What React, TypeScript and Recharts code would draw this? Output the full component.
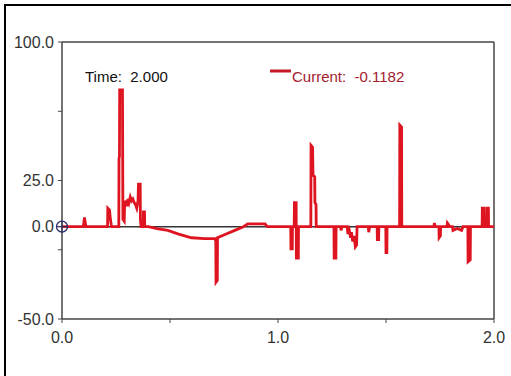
import React from 'react';
import { LineChart, Line, XAxis, YAxis, ReferenceLine, ReferenceDot } from 'recharts';

// Time (s) samples and measured current values
const times: number[] = [
  0.000, 0.097, 0.100, 0.104, 0.108, 0.111,
  0.211, 0.212, 0.220, 0.224, 0.228, 0.230,
  0.263, 0.264, 0.266, 0.267, 0.280, 0.282, 0.288, 0.290, 0.296, 0.300, 0.305, 0.310,
  0.316, 0.322, 0.328, 0.334, 0.340, 0.346, 0.352, 0.354, 0.362, 0.363, 0.366,
  0.376, 0.377, 0.382, 0.383, 0.400,
  0.440, 0.490, 0.540, 0.600, 0.660, 0.708, 0.712, 0.713, 0.719, 0.720, 0.760, 0.800, 0.840,
  0.860, 0.940, 0.950,
  1.059, 1.060, 1.066, 1.067, 1.075, 1.076, 1.084, 1.085, 1.094, 1.095,
  1.152, 1.153, 1.160, 1.162, 1.170, 1.171, 1.176, 1.177,
  1.259, 1.260, 1.268, 1.269, 1.290, 1.292, 1.296,
  1.320, 1.324, 1.330, 1.336, 1.340, 1.346, 1.352, 1.358, 1.364, 1.366,
  1.418, 1.420, 1.424, 1.459, 1.460, 1.466, 1.467, 1.499, 1.500, 1.504, 1.505,
  1.563, 1.564, 1.572, 1.573,
  1.722, 1.724, 1.728, 1.745, 1.746, 1.752, 1.753, 1.782, 1.784, 1.790, 1.794,
  1.808, 1.810, 1.830, 1.850, 1.856, 1.879, 1.880, 1.890, 1.891,
  1.945, 1.946, 1.952, 1.953, 1.965, 1.966, 1.974, 1.975, 2.000,
];

const current: number[] = [
  0, 0, 1, 5, 2, 0,
  0, 10, 9, 4, 1, 0,
  0, 37, 38, 74, 74, 4, 3, 12, 14, 11, 15, 13,
  16, 14, 15, 13, 12, 10, 14, 23, 23, 4, 0,
  0, 8, 8, 0, 0,
  -1, -2, -4, -6, -6.5, -6.5, -8, -30, -29, -6, -4, -2, 0,
  1.5, 1.5, 0,
  0, -12, -12, 0, 0, 13, 13, -17, -17, 0,
  0, 44, 43, 28, 27, 13, 12, 0,
  0, -17, -17, 0, 0, -2, 0,
  0, -4, -2, -6, -3, -8, -5, -11, -10, 0,
  0, -3, 0, 0, -7, -7, 0, 0, -14, -14, 0,
  0, 55, 54, 0,
  0, 2, 0, 0, -6, -5, 0, 0, 2, 1, 0,
  0, -2, -1, -2, 0, 0, -19, -18, 0,
  0, 10, 10, 0, 0, 10, 10, 0, 0,
];

const xTicks: number[] = [0, 0.5, 1, 1.5, 2];
const xLabeled: number[] = [0, 1, 2];
const yTicks: number[] = [-50, -12.5, 0, 25, 62.5, 100];
const yLabeled: number[] = [-50, 0, 25, 100];

const timeLabel = 'Time:  2.000';
const currentLabel = 'Current:  -0.1182';

const data = times.map((t, i) => ({ t, v: current[i] }));

const FONT = 'Arial, "Liberation Sans", sans-serif';
const AXIS = '#444';

const Crosshair = (props: any) => {
  const { cx, cy } = props;
  if (cx == null || cy == null) return null;
  return (
    <g>
      <circle cx={cx} cy={cy} r={5.5} fill="none" stroke="#2b2a66" strokeWidth={1.3} />
      <line x1={cx - 6} y1={cy} x2={cx + 6} y2={cy} stroke="#2b2a66" strokeWidth={1} />
      <line x1={cx} y1={cy - 6} x2={cx} y2={cy + 6} stroke="#2b2a66" strokeWidth={1} />
    </g>
  );
};

export default function App() {
  return (
    <div style={{ position: 'absolute', left: 0, top: 0, width: 511, height: 376, overflow: 'hidden', background: '#fff' }}>
      <div style={{ position: 'absolute', left: 4, top: 4, width: 600, height: 500, border: '2px solid #000' }} />
      <div style={{ position: 'absolute', left: 0, top: 0 }}>
        <LineChart width={511} height={376} data={data} margin={{ top: 42, right: 17, bottom: 27, left: 5 }}>
          <XAxis
            dataKey="t"
            type="number"
            domain={[0, 2]}
            ticks={xTicks}
            interval={0}
            tickFormatter={(v: number) => (xLabeled.includes(v) ? v.toFixed(1) : '')}
            tickSize={4}
            tickMargin={9}
            height={30}
            axisLine={{ stroke: AXIS, strokeWidth: 1.5 }}
            tickLine={{ stroke: AXIS }}
            tick={{ fill: '#333', fontSize: 16, fontFamily: FONT }}
            allowDataOverflow
          />
          <YAxis
            type="number"
            domain={[-50, 100]}
            ticks={yTicks}
            interval={0}
            tickFormatter={(v: number) => (yLabeled.includes(v) ? v.toFixed(1) : '')}
            tickSize={4}
            tickMargin={4}
            width={57}
            axisLine={{ stroke: AXIS, strokeWidth: 1.5 }}
            tickLine={{ stroke: AXIS }}
            tick={{ fill: '#333', fontSize: 16, fontFamily: FONT }}
            allowDataOverflow
          />
          <ReferenceLine y={100} stroke={AXIS} strokeWidth={1.5} />
          <ReferenceLine x={2} stroke={AXIS} strokeWidth={1.5} />
          <ReferenceLine y={0} stroke="#333" strokeWidth={1.5} />
          <Line
            type="linear"
            dataKey="v"
            stroke="#de1420"
            strokeWidth={2.8}
            dot={false}
            isAnimationActive={false}
            strokeLinejoin="miter"
          />
          <ReferenceDot x={0} y={0} r={5.5} shape={Crosshair} />
        </LineChart>
      </div>
      <svg width={511} height={376} style={{ position: 'absolute', left: 0, top: 0, pointerEvents: 'none' }}>
        <text x={85} y={82} fontSize={15} fontFamily={FONT} fill="#111" style={{ whiteSpace: 'pre' }}>
          {timeLabel}
        </text>
        <line x1={270} y1={71} x2={291} y2={71} stroke="#c41a28" strokeWidth={3} />
        <text x={292} y={82} fontSize={15} fontFamily={FONT} fill="#a3202e" style={{ whiteSpace: 'pre' }}>
          {currentLabel}
        </text>
      </svg>
    </div>
  );
}
